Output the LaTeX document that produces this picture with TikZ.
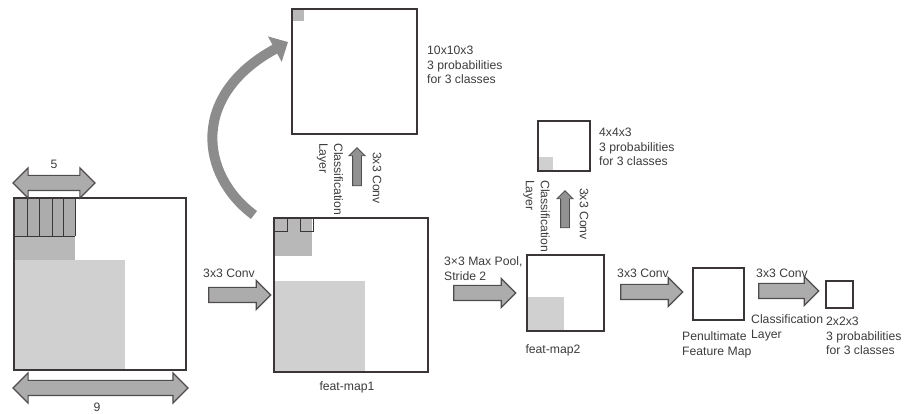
\documentclass[tikz,border=0pt]{standalone}
\usepackage{fontspec}
\setmainfont{Liberation Sans}
\usetikzlibrary{arrows.meta,positioning,shapes.arrows,calc,backgrounds}
\definecolor{mapline}{RGB}{58,54,54}
\definecolor{txtgray}{RGB}{60,60,60}
\definecolor{arrowfill}{RGB}{172,172,172}
\definecolor{arrowline}{RGB}{80,76,76}
\definecolor{curvegray}{RGB}{140,140,140}
\definecolor{greydark}{RGB}{172,172,172}
\definecolor{greymid}{RGB}{184,184,184}
\definecolor{greylight}{RGB}{208,208,208}

\tikzset{
  fmap/.style={draw=mapline, line width=1.6pt, inner sep=0pt, outer sep=0pt, anchor=north west},
  flow/.style={single arrow, draw=arrowline, fill=arrowfill, line width=1.2pt,
    inner xsep=0pt, inner ysep=7pt, single arrow head extend=7pt},
  upflow/.style={single arrow, draw=arrowline, fill=arrowfill!85!black, line width=0.8pt,
    inner xsep=0pt, inner ysep=4pt, single arrow head extend=3.5pt, rotate=90},
  span/.style={double arrow, draw=arrowline, fill=arrowfill, line width=1.2pt,
    inner xsep=0pt, inner ysep=7pt, double arrow head extend=7.5pt},
  lbl/.style={text=txtgray, font=\fontsize{12.2}{14.8}\selectfont, inner sep=0pt},
}

\begin{document}
\begin{tikzpicture}[x=1pt,y=-1pt]
  \useasboundingbox (0,0) rectangle (906,414);

  % --- input map with 5 and 9 spans ---------------------------------------
  \node[fmap, minimum width=172, minimum height=172] (input) at (14,198) {};
  \node[span, minimum height=82] (span5) at (54,183) {};
  \node[span, minimum height=175] (span9) at (100.5,388) {};
  \node[lbl] (lbl5) at (54,164) {5};
  \node[lbl] (lbl9) at (97,407) {9};

  % --- feat-map1 and its classification map --------------------------------
  \node[fmap, minimum width=154, minimum height=154] (fm1) at (274,218) {};
  \node[lbl] (fm1txt) at (347,387) {feat-map1};
  \node[fmap, minimum width=125, minimum height=125] (cls1) at (292,9) {};
  \node[lbl, anchor=west, align=left] (cls1txt) at (427,65)
    {10x10x3\\3 probabilities\\for 3 classes};
  \node[upflow, minimum height=38] (up1) at (357,169) {};
  \node[lbl, rotate=-90, anchor=west] (up1conv) at (377,152) {3x3 Conv};
  \node[lbl, rotate=-90, anchor=west, align=left] (up1cls) at (330,143)
    {Classification\\Layer};

  % --- feat-map2 and its classification map --------------------------------
  \node[fmap, minimum width=77, minimum height=76] (fm2) at (527,255) {};
  \node[lbl] (fm2txt) at (553,350) {feat-map2};
  \node[fmap, minimum width=52, minimum height=50] (cls2) at (538,121) {};
  \node[lbl, anchor=west, align=left] (cls2txt) at (599,147)
    {4x4x3\\3 probabilities\\for 3 classes};
  \node[upflow, minimum height=37] (up2) at (565,211.5) {};
  \node[lbl, rotate=-90, anchor=west] (up2conv) at (584,188) {3x3 Conv};
  \node[lbl, rotate=-90, anchor=west, align=left] (up2cls) at (536.5,180)
    {Classification\\Layer};

  % --- penultimate map and 2x2x3 output ------------------------------------
  \node[fmap, minimum width=51, minimum height=52] (pen) at (693,268) {};
  \node[lbl, anchor=west, align=left] (pentxt) at (682,345)
    {Penultimate\\Feature Map};
  \node[fmap, minimum width=27, minimum height=27] (out) at (826,281) {};
  \node[lbl, anchor=west, align=left] (outtxt) at (826,336)
    {2x2x3\\3 probabilities\\for 3 classes};

  % --- block arrows between the maps ---------------------------------------
  \node[flow, minimum height=62] (conv1) at (236,295) {};
  \node[lbl] (conv1txt) at (229,273) {3x3 Conv};
  \node[flow, minimum height=62] (pool) at (481,293) {};
  \node[lbl, anchor=west, align=left] (pooltxt) at (444,269)
    {3×3 Max Pool,\\Stride 2};
  \node[flow, minimum height=62] (conv2) at (648,292) {};
  \node[lbl] (conv2txt) at (643,273) {3x3 Conv};
  \node[flow, minimum height=60] (conv3) at (785,291) {};
  \node[lbl] (conv3txt) at (782,273) {3x3 Conv};
  \node[lbl, anchor=west, align=left] (conv3cls) at (751,328)
    {Classification\\Layer};

  % --- curved arrow from feat-map1 up to the 10x10x3 map -------------------
  \coordinate (bend0) at ($(fm1.north west)+(-20,-3)$);
  \coordinate (bend1) at ($(cls1.north west)+(-4,33)$);
  \draw[curvegray, line width=10pt, -{Triangle[length=15pt,width=28pt]}]
    (bend0) .. controls (200,175) and (190,95) .. (bend1);

  % --- grey receptive fields (under the outlines) --------------------------
  \begin{scope}[on background layer]
    \fill[greylight] ($(input.north west)+(0,62)$) rectangle ($(input.north west)+(111,172)$);
    \fill[greymid] ($(input.north west)+(0,38)$) rectangle ($(input.north west)+(61,62)$);
    \fill[greydark] (input.north west) rectangle ($(input.north west)+(61,38)$);
    \draw[mapline, line width=0.8pt] ($(input.north west)+(0,38)$) -- ($(input.north west)+(61,38)$);
    \foreach \dx in {13,25,38,49,61}
      \draw[mapline, line width=0.8pt] ($(input.north west)+(\dx,0)$) -- ($(input.north west)+(\dx,38)$);

    \fill[greylight] ($(fm1.north west)+(0,63)$) rectangle ($(fm1.north west)+(91,154)$);
    \fill[greymid] (fm1.north west) rectangle ($(fm1.north west)+(38,38)$);
    \foreach \dx in {0,26}
      \draw[mapline, line width=0.8pt] ($(fm1.north west)+(\dx,0)$) rectangle ($(fm1.north west)+(\dx+13,13)$);

    \fill[greymid] (cls1.north west) rectangle ($(cls1.north west)+(12,12)$);
    \fill[greylight] ($(fm2.north west)+(0,42)$) rectangle ($(fm2.north west)+(37,76)$);
    \fill[greylight] ($(cls2.north west)+(0,36)$) rectangle ($(cls2.north west)+(15,50)$);
  \end{scope}
\end{tikzpicture}
\end{document}
